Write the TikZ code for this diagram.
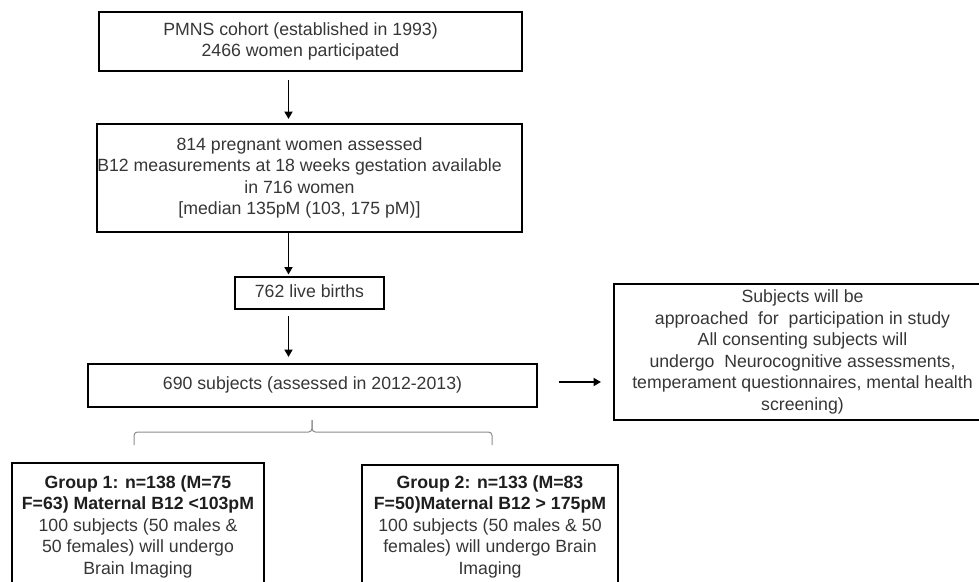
\documentclass[tikz,border=0pt]{standalone}
\usepackage{fontspec}
\setmainfont{Liberation Sans}
\usepackage{xcolor}
\usepackage{tikz}
\usetikzlibrary{arrows.meta}

\definecolor{textgrey}{HTML}{363636}
\definecolor{boldgrey}{HTML}{1E1E1E}
\definecolor{bracegrey}{HTML}{8C8C8C}
\newcommand{\lines}[1]{\begin{tabular}{@{}c@{}}#1\end{tabular}}

\tikzset{
	box/.style={draw=black, line width=2pt, inner sep=0pt, text=textgrey,
		font=\fontsize{17.7}{21.5}\selectfont},
	flow/.style={line width=1.8pt, -{Triangle[length=7.5pt,width=8pt]}},
	bracket/.style={draw=bracegrey, line width=1pt, rounded corners=3.5pt}
}

\begin{document}
\begin{tikzpicture}[x=1pt,y=-1pt]
\useasboundingbox (0,0) rectangle (979,581);

% main column
\node[box, minimum width=423pt, minimum height=59pt] (cohort) at (310.5,41.5)
	{\lines{PMNS cohort (established in 1993)\\2466 women participated}\kern20pt};
\node[box, minimum width=423pt, minimum height=108pt] (b12) at (309.5,178)
	{\lines{814 pregnant women assessed\\B12 measurements at 18 weeks gestation available\\in 716 women\\{[}median 135pM (103, 175 pM)]}\kern20pt};
\node[box, minimum width=149pt, minimum height=32pt] (births) at (309.5,293)
	{\lines{762 live births}};
\node[box, minimum width=449pt, minimum height=43pt] (subjects) at (312.5,385.5)
	{\lines{690 subjects (assessed in 2012-2013)}};

% study plan, runs off the right edge
\node[box, minimum width=377pt, minimum height=136pt] (plan) at (802.5,352)
	{\lines{Subjects will be\\approached\ \ for\ \ participation in study\\All consenting subjects will\\undergo\ \ Neurocognitive assessments,\\temperament questionnaires, mental health\\screening)}};

% the two groups
\node[box, minimum width=252pt, minimum height=128pt] (group1) at (138,527)
	{\lines{\textcolor{boldgrey}{\bfseries Group 1: n=138 (M=75}\\\textcolor{boldgrey}{\bfseries F=63) Maternal B12 <103pM}\\100 subjects (50 males \&\\50 females) will undergo\\Brain Imaging}};
\node[box, minimum width=256pt, minimum height=124pt] (group2) at (490,527)
	{\lines{\textcolor{boldgrey}{\bfseries Group 2: n=133 (M=83}\\\textcolor{boldgrey}{\bfseries F=50)Maternal B12 > 175pM}\\100 subjects (50 males \& 50\\females) will undergo Brain\\Imaging}};

% arrows
\coordinate (ax) at (288.5,0);
\coordinate (ay) at (0,382);
\draw[flow, shorten <=8pt, shorten >=4pt] (cohort.south -| ax) -- (b12.north -| ax);
\draw[flow, shorten >=1.5pt] (b12.south -| ax) -- (births.north -| ax);
\draw[flow, shorten <=6pt, shorten >=6pt] (births.south -| ax) -- (subjects.north -| ax);
\draw[flow, shorten <=21pt, shorten >=12pt] (subjects.east |- ay) -- (plan.west |- ay);

% brace
\coordinate (brl) at (134,445);
\coordinate (brr) at (492,445);
\coordinate (brt) at (312,420);
\draw[bracket] (brl) -- ++(0,-13) -| (brt);
\draw[bracket] (brr) -- ++(0,-13) -| (brt);

\end{tikzpicture}
\end{document}
